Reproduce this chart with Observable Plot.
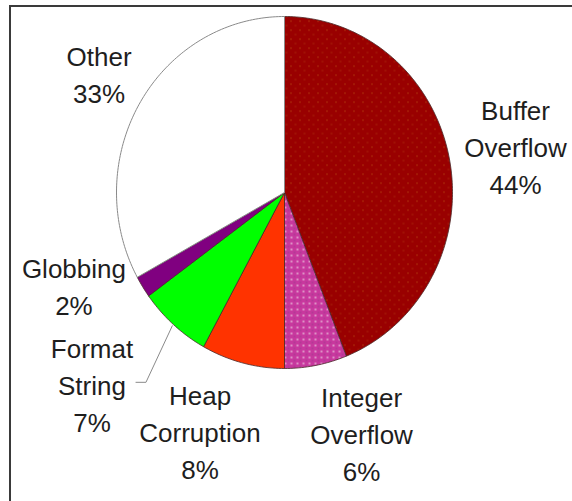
<!DOCTYPE html>
<html>
<head>
<meta charset="utf-8">
<script src="https://cdn.jsdelivr.net/npm/d3@7"></script>
<script src="https://cdn.jsdelivr.net/npm/@observablehq/plot@0.6"></script>
<style>
  html, body { margin: 0; padding: 0; background: #fff; }
  #wrap { position: relative; width: 572px; height: 501px; overflow: hidden; }
  #frame { position: absolute; left: 9px; top: 5px; width: 600px; height: 600px;
           border-left: 2px solid #3a3a3a; border-top: 2px solid #3a3a3a; pointer-events: none; }
  #chart { position: absolute; left: 0; top: 0; }
</style>
</head>
<body>
<div id="wrap"><div id="chart"></div><div id="frame"></div></div>
<script>
// ---- data ----
const categories = ["Buffer Overflow", "Integer Overflow", "Heap Corruption", "Format String", "Globbing", "Other"];
const values = [44, 6, 8, 7, 2, 33];
const sliceColors = ["url(#pBuffer)", "url(#pInteger)", "#FF3300", "#00FF00", "#800080", "#FFFFFF"];

// ---- layout (styling) ----
const W = 572, H = 501;
const cx = 284, cy = 192, rx = 168, ry = 176;
// pixel nudges of label blocks relative to mid-angle anchor
const nudges = {
  "Buffer Overflow": [0, -1],
  "Integer Overflow": [33, -2],
  "Heap Corruption": [-26, -1],
  "Format String": [-37, 6],
  "Globbing": [-12, -40],
  "Other": [17, 6]
};
const labelR = 1.4;

const total = d3.sum(values);
let acc = 0;
const slices = categories.map((c, i) => {
  const a0 = acc / total * 2 * Math.PI;
  acc += values[i];
  const a1 = acc / total * 2 * Math.PI;
  const pts = [{x: 0, y: 0}];
  const n = Math.max(2, Math.ceil((a1 - a0) / (Math.PI / 180)));
  for (let k = 0; k <= n; k++) {
    const a = a0 + (a1 - a0) * k / n;
    pts.push({x: Math.sin(a), y: Math.cos(a)});
  }
  pts.push({x: 0, y: 0});
  const am = (a0 + a1) / 2;
  const [nx, ny] = nudges[c];
  return {
    cat: c, value: values[i], color: sliceColors[i], pts, am,
    lx: labelR * Math.sin(am) + nx / rx,
    ly: labelR * Math.cos(am) - ny / ry,
    text: c.replace(" ", "\n") + "\n" + values[i] + "%"
  };
});

// leader line for Format String
const fs = slices[3];
const leader = [
  {x: 1.01 * Math.sin(fs.am), y: 1.01 * Math.cos(fs.am)},
  {x: fs.lx + 54 / rx, y: fs.ly + 1 / ry},
  {x: fs.lx + 44 / rx, y: fs.ly + 1 / ry}
];

const plot = Plot.plot({
  width: W, height: H,
  margin: 0,
  x: {domain: [-1, 1], range: [cx - rx, cx + rx], axis: null},
  y: {domain: [-1, 1], range: [cy + ry, cy - ry], axis: null},
  marks: [
    ...slices.map(s => Plot.line(s.pts, {
      x: "x", y: "y", fill: s.color,
      stroke: s.cat === "Other" ? "#8a8a8a" : "#4a2a2a",
      strokeWidth: s.cat === "Other" ? 1 : 0.8,
      strokeLinejoin: "round", curve: "linear"
    })),
    Plot.line(leader, {x: "x", y: "y", stroke: "#8a8a8a", strokeWidth: 1}),
    Plot.text(slices, {
      x: "lx", y: "ly", text: "text",
      fontSize: 26, lineHeight: 1.42, lineAnchor: "middle", textAnchor: "middle",
      fill: "#1e1e1e", fontFamily: "Liberation Sans, Arial, sans-serif"
    })
  ]
});

// patterns used by the slice fills
const ns = "http://www.w3.org/2000/svg";
const defs = document.createElementNS(ns, "defs");
defs.innerHTML = `
  <pattern id="pBuffer" patternUnits="userSpaceOnUse" width="9" height="9">
    <rect width="9" height="9" fill="#990000"/>
    <rect x="2" y="2" width="1" height="1.2" fill="#c0641a" opacity="0.8"/>
    <rect x="6.5" y="6.5" width="1" height="1.2" fill="#c0641a" opacity="0.6"/>
  </pattern>
  <pattern id="pInteger" patternUnits="userSpaceOnUse" width="6" height="6">
    <rect width="6" height="6" fill="#c8389e"/>
    <circle cx="3" cy="3" r="1.1" fill="#e2a6cf"/>
    <circle cx="0" cy="0" r="0.8" fill="#9a3a8a"/>
    <circle cx="6" cy="6" r="0.8" fill="#9a3a8a"/>
    <circle cx="0" cy="6" r="0.8" fill="#9a3a8a"/>
    <circle cx="6" cy="0" r="0.8" fill="#9a3a8a"/>
  </pattern>`;
plot.insertBefore(defs, plot.firstChild);
plot.style.background = "transparent";
document.getElementById("chart").appendChild(plot);
</script>
</body>
</html>
